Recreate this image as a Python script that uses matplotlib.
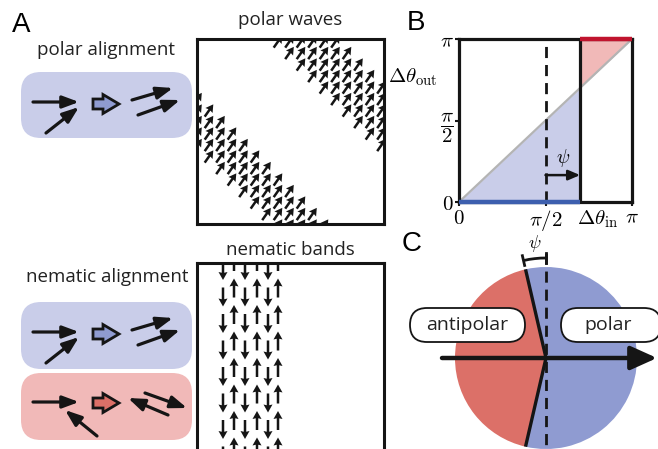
import numpy as np
import matplotlib.pyplot as plt
from matplotlib.patches import FancyBboxPatch, FancyArrowPatch, Polygon, Wedge, Arc

plt.rcParams['mathtext.fontset'] = 'cm'
plt.rcParams['font.family'] = ['Open Sans', 'DejaVu Sans']

W, H = 658, 449
fig = plt.figure(figsize=(W / 100, H / 100), dpi=100)

LIGHT_BLUE = '#c9cde9'
LIGHT_RED = '#f1b9b8'
MID_BLUE = '#8f9bd1'
MID_RED = '#dc7068'
LINE_BLUE = '#3d5fae'
LINE_RED = '#c0142e'
DARK = '#151515'
TXT = '#222222'

# --- data -------------------------------------------------------------
# panel A: alignment sketches (tail, head) in pixel coords of the sketch
polar_in = [((33, 102), (79, 102)), ((46, 133), (79, 107))]
polar_out = [((132, 100), (173, 88)), ((138, 115), (180, 100))]
anti_in = [((33, 402), (79, 402)), ((97, 436), (65, 410))]
anti_out = [((168, 415), (128, 398)), ((145, 393), (187, 408))]

# polar waves: bands in s = x - y, arrow angle
wave_bands = [(50, 106), (236, 297)]
wave_angle = 55.0
# nematic bands: column positions and directions (+1 up, -1 down)
band_cols = [223, 234, 245, 257, 268, 278]
band_dirs = [-1, 1, -1, 1, -1, 1]
band_period = 26.5

# panel B
psi_B = 0.2 * np.pi
# panel C
psi_C = np.deg2rad(13)


def px_axes(l, t, r, b):
    ax = fig.add_axes([l / W, 1 - b / H, (r - l) / W, (b - t) / H])
    ax.set_facecolor('none')
    return ax


def arrow(ax, tail, head, lw=2.3, ms=14, hl=0.7, hw=0.26, color=DARK):
    a = FancyArrowPatch(tail, head, arrowstyle='-|>,head_length=%g,head_width=%g' % (hl, hw),
                        mutation_scale=ms, lw=lw, color=color, shrinkA=0, shrinkB=0)
    ax.add_patch(a)


def block_arrow(ax, x0, yc, fc):
    pts = [(x0, yc - 5), (x0 + 10, yc - 5), (x0 + 10, yc - 9.5), (x0 + 26, yc),
           (x0 + 10, yc + 9.5), (x0 + 10, yc + 5), (x0, yc + 5)]
    ax.add_patch(Polygon(pts, closed=True, fc=fc, ec=DARK, lw=2, joinstyle='miter'))


ax0 = px_axes(0, 0, W, H)
ax0.set_xlim(0, W)
ax0.set_ylim(H, 0)
ax0.axis('off')

# panel letters
for lab, x, y in [('A', 21, 25), ('B', 416, 23), ('C', 412, 244)]:
    ax0.text(x, y, lab, fontsize=20, family='Liberation Sans', ha='center', va='center')

# --- panel A sketches ---------------------------------------------------
ax0.text(106, 50, 'polar alignment', fontsize=13.5, ha='center', va='center', color=TXT)
ax0.text(107, 277, 'nematic alignment', fontsize=13.5, ha='center', va='center', color=TXT)
ax0.text(290, 20, 'polar waves', fontsize=13.5, ha='center', va='center', color=TXT)
ax0.text(290, 250, 'nematic bands', fontsize=13.5, ha='center', va='center', color=TXT)

for y0, h, fc in [(72, 66, LIGHT_BLUE), (302, 67, LIGHT_BLUE), (373, 67, LIGHT_RED)]:
    ax0.add_patch(FancyBboxPatch((21, y0), 171, h, boxstyle='round,pad=0,rounding_size=20',
                                 fc=fc, ec='none'))

for dy in (0, 230):
    for t, h in polar_in + polar_out:
        arrow(ax0, (t[0], t[1] + dy), (h[0], h[1] + dy))
    block_arrow(ax0, 93, 104 + dy, MID_BLUE)
for t, h in anti_in + anti_out:
    arrow(ax0, t, h)
block_arrow(ax0, 93, 403, MID_RED)

# polar waves
pw = px_axes(197, 39, 384, 224)
pw.set_xlim(197, 384)
pw.set_ylim(224, 39)
gx, gy = np.meshgrid(np.arange(186, 398, 11.5), np.arange(30, 240, 11.5))
s = gx - gy
mask = np.zeros_like(s, dtype=bool)
for lo, hi in wave_bands:
    mask |= (s >= lo) & (s <= hi)
L = 15
ang = np.deg2rad(wave_angle)
pw.quiver(gx[mask], gy[mask], np.full(mask.sum(), L * np.cos(ang)),
          np.full(mask.sum(), -L * np.sin(ang)), angles='xy', scale_units='xy', scale=1,
          pivot='middle', units='xy', width=2.5, headwidth=3.5, headlength=3.0,
          headaxislength=2.7, color=DARK)

# nematic bands
nb = px_axes(197, 263, 384, 470)
nb.set_xlim(197, 384)
nb.set_ylim(470, 263)
for x, d in zip(band_cols, band_dirs):
    start = 270.5 if d < 0 else 261.5
    ys = np.arange(start, 470, band_period)
    nb.quiver(np.full(len(ys), x), ys, np.zeros(len(ys)), -d * np.full(len(ys), 19.0),
              angles='xy', scale_units='xy', scale=1, pivot='middle', units='xy',
              width=2.5, headwidth=3.6, headlength=3.2, headaxislength=2.9, color=DARK)

for ax in (pw, nb):
    ax.set_xticks([])
    ax.set_yticks([])
    for sp in ax.spines.values():
        sp.set_linewidth(2.2)
        sp.set_color(DARK)

# --- panel B ------------------------------------------------------------
bx = px_axes(459, 39, 632, 202)
pi = np.pi
x0 = pi / 2 + psi_B
xb = np.linspace(0, x0, 50)
bx.fill_between(xb, 0, xb, color=LIGHT_BLUE, lw=0)
xr = np.linspace(x0, pi, 50)
bx.fill_between(xr, xr, pi, color=LIGHT_RED, lw=0)
bx.plot([0, pi], [0, pi], color='#b4b4b4', lw=1.6)
bx.plot([x0, x0], [0, pi], color=DARK, lw=2.3)
bx.plot([pi / 2, pi / 2], [0, pi], color=DARK, lw=2, dashes=(4, 2.5))
bx.plot([0, x0], [0, 0], color=LINE_BLUE, lw=3.2, clip_on=False, zorder=5, solid_capstyle='butt')
bx.plot([x0, pi], [pi, pi], color=LINE_RED, lw=3.2, clip_on=False, zorder=5, solid_capstyle='butt')
arrow(bx, (pi / 2, 0.165 * pi), (x0, 0.165 * pi), lw=1.8, ms=10, hl=0.7, hw=0.3)
bx.text(0.6 * pi, 0.27 * pi, r'$\psi$', fontsize=14, ha='center', va='center')
bx.set_xlim(0, pi)
bx.set_ylim(0, pi)
bx.set_xticks([0, pi / 2, pi])
bx.set_xticklabels([r'$0$', r'$\pi/2$', r'$\pi$'], fontsize=15)
bx.set_yticks([0, pi / 2, pi])
bx.set_yticklabels([r'$0$', r'$\dfrac{\pi}{2}$', r'$\pi$'], fontsize=15)
bx.tick_params(length=3, width=1.5, pad=1, color=DARK)
for sp in bx.spines.values():
    sp.set_linewidth(2.3)
    sp.set_color(DARK)
ax0.text(598, 219, r'$\Delta\theta_{\rm in}$', fontsize=15, ha='center', va='center')
ax0.text(413, 77, r'$\Delta\theta_{\rm out}$', fontsize=15, ha='center', va='center')

# --- panel C ------------------------------------------------------------
cx, cy, R = 546, 358, 91
a_up = 270 - np.rad2deg(psi_C)
a_dn = 90 + np.rad2deg(psi_C)
ax0.add_patch(Wedge((cx, cy), R, a_dn, a_up, fc=MID_RED, ec='none'))
ax0.add_patch(Wedge((cx, cy), R, a_up, a_dn + 360, fc=MID_BLUE, ec='none'))
ax0.plot([cx, cx], [253, H], color=DARK, lw=2, dashes=(4, 2.5))
for a in (a_up, a_dn):
    ax0.plot([cx, cx + R * np.cos(np.deg2rad(a))], [cy, cy + R * np.sin(np.deg2rad(a))],
             color=DARK, lw=2.4, solid_capstyle='butt')
ax0.add_patch(Arc((cx, cy), 200, 200, theta1=a_up, theta2=270, color=DARK, lw=2))
for a in (a_up, 270):
    r = np.deg2rad(a)
    ax0.plot([cx + 95 * np.cos(r), cx + 105 * np.cos(r)], [cy + 95 * np.sin(r), cy + 105 * np.sin(r)],
             color=DARK, lw=2)
ax0.text(535, 243, r'$\psi$', fontsize=13, ha='center', va='center')
arrow(ax0, (442, cy), (657, cy), lw=3.2, ms=16, hl=1.0, hw=0.45)
for x, w, lab in [(410, 115, 'antipolar'), (561, 100, 'polar')]:
    ax0.add_patch(FancyBboxPatch((x, 308), w, 34, boxstyle='round,pad=0,rounding_size=17',
                                 fc='white', ec=DARK, lw=1.3))
    ax0.text(x + w / 2 - (3 if lab == 'polar' else 0), 325, lab, fontsize=14,
             ha='center', va='center', color=TXT)

fig.savefig('out.png', dpi=100)
